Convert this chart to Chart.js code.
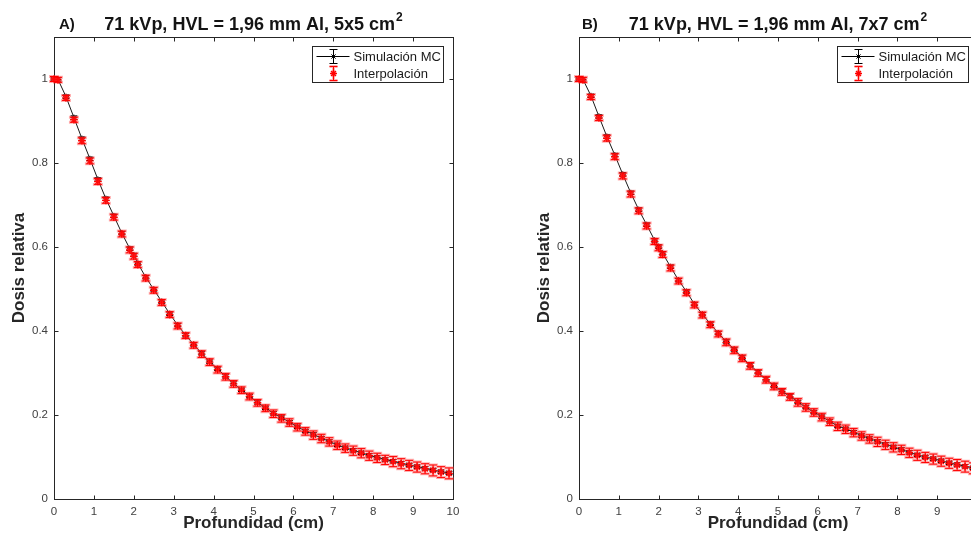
<!DOCTYPE html>
<html>
<head>
<meta charset="utf-8">
<script src="https://cdn.jsdelivr.net/npm/chart.js@4.4.0/dist/chart.umd.min.js"></script>
<style>
  html, body { margin: 0; padding: 0; background: #fff; overflow: hidden; }
  #wrap { position: relative; width: 971px; height: 544px; overflow: hidden; }
  canvas { position: absolute; top: 0; }
  #panelA { left: 0; }
  #panelB { left: 525px; }
</style>
</head>
<body>
<div id="wrap">
  <canvas id="panelA" width="470" height="544"></canvas>
  <canvas id="panelB" width="470" height="544"></canvas>
</div>
<script>
"use strict";

// depth (cm)
const depths = [0, 0.1, 0.3, 0.5, 0.7, 0.9, 1.1, 1.3, 1.5, 1.7,
    1.9, 2.0, 2.1, 2.3, 2.5, 2.7, 2.9, 3.1, 3.3, 3.5,
    3.7, 3.9, 4.1, 4.3, 4.5, 4.7, 4.9, 5.1, 5.3, 5.5,
    5.7, 5.9, 6.1, 6.3, 6.5, 6.7, 6.9, 7.1, 7.3, 7.5,
    7.7, 7.9, 8.1, 8.3, 8.5, 8.7, 8.9, 9.1, 9.3, 9.5,
    9.7, 9.9];

// A) 5x5 cm2
const mcA = [1.000, 0.999, 0.958, 0.908, 0.858, 0.810, 0.761, 0.715, 0.674, 0.633,
    0.596, 0.581, 0.561, 0.528, 0.499, 0.470, 0.441, 0.414, 0.390, 0.368,
    0.347, 0.327, 0.310, 0.292, 0.275, 0.260, 0.245, 0.230, 0.217, 0.204,
    0.194, 0.183, 0.172, 0.162, 0.154, 0.145, 0.137, 0.129, 0.122, 0.116,
    0.110, 0.104, 0.099, 0.094, 0.090, 0.085, 0.081, 0.077, 0.073, 0.069,
    0.065, 0.062];
const interpA = [1.000, 0.998, 0.955, 0.903, 0.853, 0.805, 0.756, 0.711, 0.671, 0.631,
    0.593, 0.578, 0.558, 0.526, 0.497, 0.468, 0.439, 0.412, 0.389, 0.366,
    0.345, 0.326, 0.308, 0.291, 0.274, 0.259, 0.244, 0.229, 0.216, 0.203,
    0.192, 0.182, 0.171, 0.161, 0.152, 0.144, 0.136, 0.128, 0.121, 0.115,
    0.109, 0.103, 0.098, 0.093, 0.089, 0.084, 0.080, 0.076, 0.072, 0.068,
    0.064, 0.061];

// B) 7x7 cm2
const mcB = [1.000, 0.999, 0.960, 0.911, 0.863, 0.819, 0.773, 0.729, 0.689, 0.653,
    0.616, 0.601, 0.585, 0.553, 0.521, 0.494, 0.464, 0.440, 0.417, 0.395,
    0.375, 0.356, 0.337, 0.319, 0.302, 0.285, 0.270, 0.256, 0.245, 0.231,
    0.219, 0.207, 0.196, 0.185, 0.174, 0.167, 0.159, 0.151, 0.144, 0.137,
    0.130, 0.124, 0.118, 0.111, 0.105, 0.100, 0.096, 0.091, 0.086, 0.082,
    0.078, 0.074];
const interpB = [1.000, 0.998, 0.957, 0.907, 0.859, 0.815, 0.769, 0.726, 0.686, 0.650,
    0.613, 0.598, 0.582, 0.550, 0.519, 0.491, 0.462, 0.438, 0.415, 0.393,
    0.373, 0.354, 0.335, 0.317, 0.300, 0.284, 0.268, 0.255, 0.243, 0.230,
    0.218, 0.206, 0.195, 0.184, 0.173, 0.166, 0.158, 0.150, 0.143, 0.136,
    0.129, 0.123, 0.117, 0.110, 0.104, 0.099, 0.095, 0.090, 0.085, 0.081,
    0.077, 0.073];

// error bar half widths
const mcError = [0.004, 0.004, 0.004, 0.004, 0.004, 0.004, 0.004, 0.004, 0.004, 0.004,
    0.004, 0.004, 0.004, 0.004, 0.004, 0.004, 0.004, 0.004, 0.004, 0.004,
    0.004, 0.004, 0.004, 0.004, 0.004, 0.004, 0.004, 0.004, 0.004, 0.004,
    0.004, 0.004, 0.004, 0.004, 0.004, 0.004, 0.004, 0.004, 0.004, 0.004,
    0.004, 0.004, 0.004, 0.004, 0.004, 0.004, 0.004, 0.004, 0.004, 0.004,
    0.004, 0.004];
const interpError = [0.006, 0.006, 0.006, 0.006, 0.007, 0.007, 0.007, 0.007, 0.007, 0.007,
    0.007, 0.007, 0.007, 0.007, 0.007, 0.007, 0.007, 0.007, 0.007, 0.007,
    0.008, 0.008, 0.008, 0.008, 0.008, 0.008, 0.008, 0.008, 0.008, 0.009,
    0.009, 0.009, 0.009, 0.009, 0.010, 0.010, 0.010, 0.010, 0.010, 0.011,
    0.011, 0.011, 0.011, 0.011, 0.012, 0.012, 0.012, 0.012, 0.012, 0.013,
    0.013, 0.013];

const xTicks = [0, 1, 2, 3, 4, 5, 6, 7, 8, 9, 10];
const yTicks = [0, 0.2, 0.4, 0.6, 0.8, 1];

const FONT = "'Liberation Sans', Arial, Helvetica, sans-serif";
const AXIS = '#262626';
const TICK = '#404040';
const RED = '#ff0000';
const PINK = 'rgba(255, 60, 60, 0.4)';

function toPoints(xs, ys) {
    return xs.map((x, i) => ({ x: x, y: ys[i] }));
}

function strokeErrorBars(chart, xs, ys, errs, color, width, capHalf) {
    const ctx = chart.ctx;
    const sx = chart.scales.x;
    const sy = chart.scales.y;
    ctx.save();
    ctx.strokeStyle = color;
    ctx.lineWidth = width;
    ctx.beginPath();
    xs.forEach((d, i) => {
        const px = sx.getPixelForValue(d);
        const top = sy.getPixelForValue(ys[i] + errs[i]);
        const bot = sy.getPixelForValue(ys[i] - errs[i]);
        ctx.moveTo(px, top); ctx.lineTo(px, bot);
        ctx.moveTo(px - capHalf, top); ctx.lineTo(px + capHalf, top);
        ctx.moveTo(px - capHalf, bot); ctx.lineTo(px + capHalf, bot);
    });
    ctx.stroke();
    ctx.restore();
}

// box around the axes with inward ticks (matlab style)
const framePlugin = {
    id: 'frame',
    beforeDatasetsDraw(chart) {
        const { ctx, chartArea: a, scales: { x, y } } = chart;
        const l = Math.round(a.left) + 0.5, r = Math.round(a.right) + 0.5;
        const t = Math.round(a.top) + 0.5, b = Math.round(a.bottom) + 0.5;
        ctx.save();
        ctx.strokeStyle = AXIS;
        ctx.lineWidth = 1;
        ctx.strokeRect(l, t, r - l, b - t);
        ctx.beginPath();
        x.ticks.forEach(tk => {
            const px = Math.round(x.getPixelForValue(tk.value)) + 0.5;
            ctx.moveTo(px, b); ctx.lineTo(px, b - 4);
            ctx.moveTo(px, t); ctx.lineTo(px, t + 4);
        });
        y.ticks.forEach(tk => {
            const py = Math.round(y.getPixelForValue(tk.value)) + 0.5;
            ctx.moveTo(l, py); ctx.lineTo(l + 4, py);
            ctx.moveTo(r, py); ctx.lineTo(r - 4, py);
        });
        ctx.stroke();
        ctx.restore();
    }
};

function makeErrorPlugin(mc, interp) {
    return {
        id: 'errorBars',
        beforeDatasetsDraw(chart) {
            strokeErrorBars(chart, depths, mc, mcError, '#000', 1, 3.5);
        },
        afterDatasetsDraw(chart) {
            strokeErrorBars(chart, depths, interp, interpError, PINK, 3, 5);
            strokeErrorBars(chart, depths, interp, interpError, RED, 1, 4);
        }
    };
}

function makeLegendPlugin(dx) {
    return {
        id: 'boxLegend',
        afterDraw(chart) {
            const ctx = chart.ctx;
            const a = chart.chartArea;
            const w = 131, h = 36;
            const left = Math.round(a.right) - 10 - w + dx + 0.5;
            const top = Math.round(a.top) + 9 + 0.5;
            ctx.save();
            ctx.fillStyle = '#fff';
            ctx.fillRect(left, top, w, h);
            ctx.strokeStyle = AXIS;
            ctx.lineWidth = 1;
            ctx.strokeRect(left, top, w, h);

            const cx = left + 21;
            const y1 = top + 10, y2 = top + 27;
            // Simulación MC sample
            ctx.strokeStyle = '#000';
            ctx.beginPath();
            ctx.moveTo(left + 4, y1); ctx.lineTo(left + 37, y1);
            ctx.moveTo(cx, y1 - 7); ctx.lineTo(cx, y1 + 7);
            ctx.moveTo(cx - 4, y1 - 7); ctx.lineTo(cx + 4, y1 - 7);
            ctx.moveTo(cx - 4, y1 + 7); ctx.lineTo(cx + 4, y1 + 7);
            ctx.stroke();
            Chart.helpers.drawPoint(ctx, { pointStyle: 'star', radius: 3, rotation: 0, borderWidth: 1 }, cx, y1);
            // Interpolación sample
            [[PINK, 3], [RED, 1]].forEach(([col, lw]) => {
                ctx.strokeStyle = col;
                ctx.lineWidth = lw;
                ctx.beginPath();
                ctx.moveTo(cx, y2 - 7); ctx.lineTo(cx, y2 + 7);
                ctx.moveTo(cx - 4, y2 - 7); ctx.lineTo(cx + 4, y2 - 7);
                ctx.moveTo(cx - 4, y2 + 7); ctx.lineTo(cx + 4, y2 + 7);
                ctx.stroke();
            });
            ctx.strokeStyle = RED;
            ctx.lineWidth = 1.4;
            Chart.helpers.drawPoint(ctx, { pointStyle: 'star', radius: 3.5, rotation: 0, borderWidth: 1.4 }, cx, y2);

            ctx.fillStyle = '#1a1a1a';
            ctx.font = '13px ' + FONT;
            ctx.textBaseline = 'middle';
            ctx.textAlign = 'left';
            ctx.fillText('Simulación MC', left + 41, y1 + 1);
            ctx.fillText('Interpolación', left + 41, y2 + 1);
            ctx.restore();
        }
    };
}

function makeTitlePlugin(tag, tagX, title) {
    return {
        id: 'panelTitle',
        afterDraw(chart) {
            const ctx = chart.ctx;
            const a = chart.chartArea;
            ctx.save();
            ctx.fillStyle = '#141414';
            ctx.textBaseline = 'alphabetic';
            ctx.textAlign = 'left';
            ctx.font = 'bold 15px ' + FONT;
            ctx.fillText(tag, tagX, 28.5);
            ctx.font = 'bold 18px ' + FONT;
            const w1 = ctx.measureText(title).width;
            ctx.font = 'bold 12px ' + FONT;
            const w2 = ctx.measureText('2').width;
            const sx = (a.left + a.right) / 2 - (w1 + 1 + w2) / 2;
            ctx.font = 'bold 18px ' + FONT;
            ctx.fillText(title, sx, 30);
            ctx.font = 'bold 12px ' + FONT;
            ctx.fillText('2', sx + w1 + 1, 21);
            ctx.restore();
        }
    };
}

function makePanel(canvasId, cfg) {
    const ctx = document.getElementById(canvasId).getContext('2d');
    return new Chart(ctx, {
        type: 'scatter',
        data: {
            datasets: [
                {
                    label: 'Interpolación',
                    data: toPoints(depths, cfg.interp),
                    showLine: false,
                    pointStyle: 'star',
                    pointRadius: 3.8,
                    borderColor: RED,
                    backgroundColor: RED,
                    borderWidth: 1.4,
                    clip: false,
                    order: 1
                },
                {
                    label: 'Simulación MC',
                    data: toPoints(depths, cfg.mc),
                    showLine: true,
                    borderColor: '#1a1a1a',
                    borderWidth: 1,
                    pointStyle: 'star',
                    pointRadius: 3,
                    pointBorderColor: '#000',
                    pointBorderWidth: 1,
                    clip: false,
                    tension: 0,
                    order: 2
                }
            ]
        },
        options: {
            responsive: false,
            animation: false,
            events: [],
            layout: { padding: { top: 37, right: cfg.padRight, left: 0, bottom: 0 } },
            plugins: {
                legend: { display: false },
                tooltip: { enabled: false },
                title: { display: false }
            },
            scales: {
                x: {
                    type: 'linear',
                    min: 0,
                    max: 10,
                    grid: { display: false, drawTicks: false },
                    border: { display: false },
                    afterBuildTicks: (s) => { s.ticks = xTicks.map(v => ({ value: v })); },
                    ticks: {
                        padding: 6,
                        color: TICK,
                        maxRotation: 0,
                        autoSkip: false,
                        font: { family: FONT, size: 11.5 }
                    },
                    title: {
                        display: true,
                        text: 'Profundidad (cm)',
                        color: '#262626',
                        font: { family: FONT, size: 17, weight: 'bold' },
                        padding: { top: 0, bottom: 10 }
                    },
                    afterFit: (s) => { s.height = 45; }
                },
                y: {
                    type: 'linear',
                    min: 0,
                    max: 1.1,
                    bounds: 'data',
                    grid: { display: false, drawTicks: false },
                    border: { display: false },
                    afterBuildTicks: (s) => { s.ticks = yTicks.map(v => ({ value: v })); },
                    ticks: {
                        padding: 6,
                        color: TICK,
                        font: { family: FONT, size: 11.5 },
                        callback: (v) => String(Math.round(v * 10) / 10)
                    },
                    title: {
                        display: true,
                        text: 'Dosis relativa',
                        color: '#262626',
                        font: { family: FONT, size: 17, weight: 'bold' },
                        padding: { top: 9, bottom: 0 }
                    },
                    afterFit: (s) => { s.width = 54; }
                }
            }
        },
        plugins: [
            framePlugin,
            makeErrorPlugin(cfg.mc, cfg.interp),
            makeLegendPlugin(cfg.legendDx),
            makeTitlePlugin(cfg.tag, cfg.tagX, cfg.title)
        ]
    });
}

makePanel('panelA', {
    mc: mcA, interp: interpA, padRight: 17, legendDx: 0,
    tag: 'A)', tagX: 59, title: '71 kVp, HVL = 1,96 mm Al, 5x5 cm'
});
makePanel('panelB', {
    mc: mcB, interp: interpB, padRight: 18, legendDx: 1,
    tag: 'B)', tagX: 57, title: '71 kVp, HVL = 1,96 mm Al, 7x7 cm'
});
</script>
</body>
</html>
